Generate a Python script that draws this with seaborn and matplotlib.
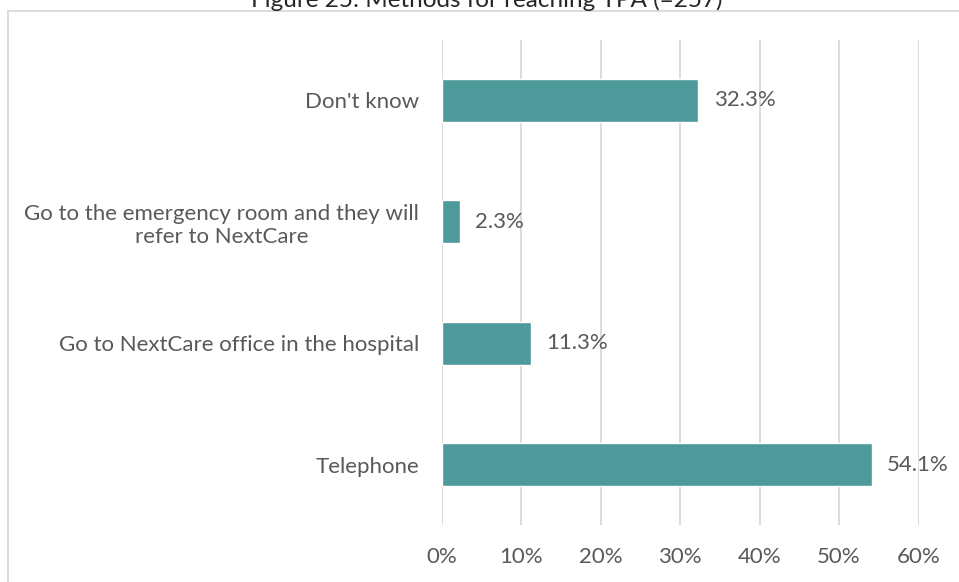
import matplotlib
matplotlib.use("Agg")
import matplotlib.pyplot as plt
from matplotlib.patches import Rectangle
from matplotlib.ticker import FixedLocator
import seaborn as sns
import pandas as pd

# Survey responses: how members reach the TPA
categories = [
    "Don't know",
    "Go to the emergency room and they will\nrefer to NextCare",
    "Go to NextCare office in the hospital",
    "Telephone",
]
shares = [0.323, 0.023, 0.113, 0.541]
value_labels = ["32.3%", "2.3%", "11.3%", "54.1%"]
x_ticks = [0.0, 0.1, 0.2, 0.3, 0.4, 0.5, 0.6]
x_tick_labels = ["0%", "10%", "20%", "30%", "40%", "50%", "60%"]
title = "Figure 25: Methods for reaching TPA (=257)"

df = pd.DataFrame({"method": categories, "share": shares})

sns.set_style("white")
plt.rcParams["font.family"] = ["Lato", "DejaVu Sans"]

W, H = 959, 582
fig = plt.figure(figsize=(W / 100, H / 100), dpi=100)
ax = fig.add_axes([441.5 / W, 1 - 525.2 / H, (918.5 - 441.5) / W, (525.2 - 39.8) / H])

text_color = "#595959"
grid_color = "#D9D9D9"
bar_color = "#4E9A9B"
fs = 16

sns.barplot(data=df, x="share", y="method", orient="h", color=bar_color,
            width=0.354, saturation=1, ax=ax, zorder=3)

ax.set_xlim(0, 0.6)
ax.set_ylim(3.5, -0.5)
ax.xaxis.set_major_locator(FixedLocator(x_ticks))
ax.set_xticklabels(x_tick_labels)
ax.grid(axis="x", color=grid_color, linewidth=1.3, zorder=0)
ax.grid(axis="y", visible=False)
for s in ax.spines.values():
    s.set_visible(False)
ax.set_xlabel("")
ax.set_ylabel("")
ax.tick_params(axis="x", length=0, pad=16, labelsize=fs, labelcolor=text_color)
ax.tick_params(axis="y", length=0, pad=16, labelsize=fs, labelcolor=text_color)
for lbl in ax.get_yticklabels():
    lbl.set_horizontalalignment("right")
    lbl.set_multialignment("center")

for bar, txt in zip(ax.patches, value_labels):
    y = bar.get_y() + bar.get_height() / 2
    ax.annotate(txt, (bar.get_width(), y), xytext=(11, 0), textcoords="offset points",
                va="center", ha="left", fontsize=fs, color=text_color)

# chart frame
fig.patches.append(Rectangle((8 / W, -0.1), 1.2, 1 - 11 / H + 0.1,
                             transform=fig.transFigure, fill=False,
                             edgecolor=grid_color, linewidth=1.3, zorder=0))

fig.text(487 / W, 1 - 7 / H, title, ha="center", va="baseline",
         fontsize=17.5, color="#262626")

fig.savefig("out.png", dpi=100)
